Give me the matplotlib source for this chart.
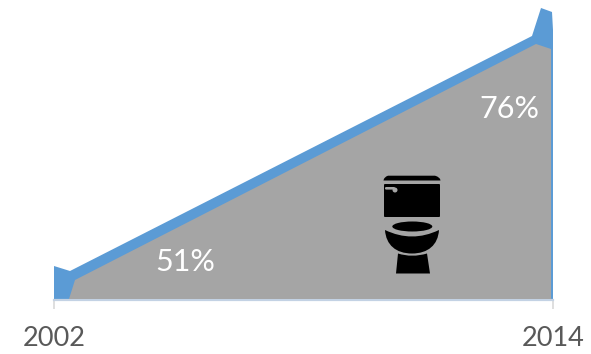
import numpy as np
import matplotlib
matplotlib.use("Agg")
import matplotlib.pyplot as plt
from matplotlib.patches import Polygon, PathPatch, Ellipse, FancyBboxPatch
from matplotlib.path import Path
from matplotlib.transforms import IdentityTransform

years = [2002, 2014]
shares = [51, 76]
share_labels = ["51%", "76%"]

plt.rcParams['font.family'] = ['Lato', 'DejaVu Sans']

W, H = 591, 354
BLUE = "#5b9bd5"
GREY = "#a5a5a5"

fig = plt.figure(figsize=(W / 100, H / 100), dpi=100)
ax = fig.add_axes([54 / W, (H - 300) / H, 499 / W, 300 / H])
ax.set_xlim(years[0], years[1])
ax.set_ylim(49.53, 78.94)
ax.patch.set_alpha(0)

for s in ["top", "left", "right"]:
    ax.spines[s].set_visible(False)
ax.spines["bottom"].set_color("#c3d2e4")
ax.spines["bottom"].set_linewidth(1.6)
ax.set_yticks([])
ax.set_xticks(years)
ax.set_xticklabels([str(y) for y in years], fontsize=19.5, color="#595959")
ax.tick_params(axis="x", length=6.5, width=1.2, color="#d9d9d9", pad=12)


def shifted(year, value, dx=0, dy=0):
    # pixel position of a data point, dy counted downwards
    px, py = ax.transData.transform((year, value))
    return (px + dx, py - dy)


def base(year, dx=0, dy=0):
    return shifted(year, ax.get_ylim()[0], dx, dy)


# heavy outline of the area, with the spikes a mitred stroke leaves at the ends
outline = [
    base(years[0]),
    shifted(years[0], shares[0], 0, -19),
    shifted(years[0], shares[0], 16, -14),
    shifted(years[1], shares[1], -21, 6),
    shifted(years[1], shares[1], -12, -22),
    shifted(years[1], shares[1], -1, -18),
    shifted(years[1], shares[1], 0, 0),
    base(years[1]),
]
ax.add_patch(Polygon(outline, closed=True, fc=BLUE, ec="none",
                     transform=IdentityTransform(), clip_on=False, zorder=2))

inner = [
    base(years[0], 15, -1),
    shifted(years[0], shares[0], 21, -5),
    shifted(years[1], shares[1], -17, 14),
    shifted(years[1], shares[1], -2, 19),
    base(years[1], -2, -1),
]
ax.add_patch(Polygon(inner, closed=True, fc=GREY, ec="none",
                     transform=IdentityTransform(), clip_on=False, zorder=3))

ax.text(0.263, 0.127, share_labels[0], transform=ax.transAxes, ha="center", va="center",
        fontsize=22, color="white", zorder=5)
ax.text(0.913, 0.635, share_labels[1], transform=ax.transAxes, ha="center", va="center",
        fontsize=22, color="white", zorder=5)

# toilet icon, on its own full-figure axes in pixel units
icon = fig.add_axes([0, 0, 1, 1])
icon.set_xlim(0, W)
icon.set_ylim(H, 0)
icon.axis("off")


def shape(verts, codes):
    icon.add_patch(PathPatch(Path(verts, codes), fc="black", ec="none"))


M, L, C3, C4, Z = Path.MOVETO, Path.LINETO, Path.CURVE3, Path.CURVE4, Path.CLOSEPOLY

# tank lid
shape([(383.5, 180.5), (384, 177), (388, 175.7), (435, 175.7), (440, 177), (440.5, 180.5), (383.5, 180.5)],
      [M, C3, C3, L, C3, C3, Z])
# tank
icon.add_patch(FancyBboxPatch((384, 184), 56, 33, boxstyle="round,pad=0,rounding_size=1",
                              fc="black", ec="none"))
# flush handle
icon.add_patch(FancyBboxPatch((385, 187), 10, 2.6, boxstyle="round,pad=0,rounding_size=1.2",
                              fc=GREY, ec="none"))
icon.add_patch(Ellipse((395, 190), 5, 5, fc=GREY, ec="none"))
# seat opening
icon.add_patch(Ellipse((412.3, 226.5), 40, 10, fc="black", ec="none"))
# bowl
shape([(385, 230), (412, 243), (439, 230), (438, 245), (428, 253.5), (412, 253.5),
       (396, 253.5), (386, 245), (385, 230), (385, 230)],
      [M, C3, C3, C4, C4, C4, C4, C4, C4, Z])
# pedestal
shape([(398, 253.5), (412, 258), (427, 253.5), (430, 273.5), (396, 273.5), (398, 253.5)],
      [M, C3, C3, L, L, Z])

fig.savefig("out.png", dpi=100)
